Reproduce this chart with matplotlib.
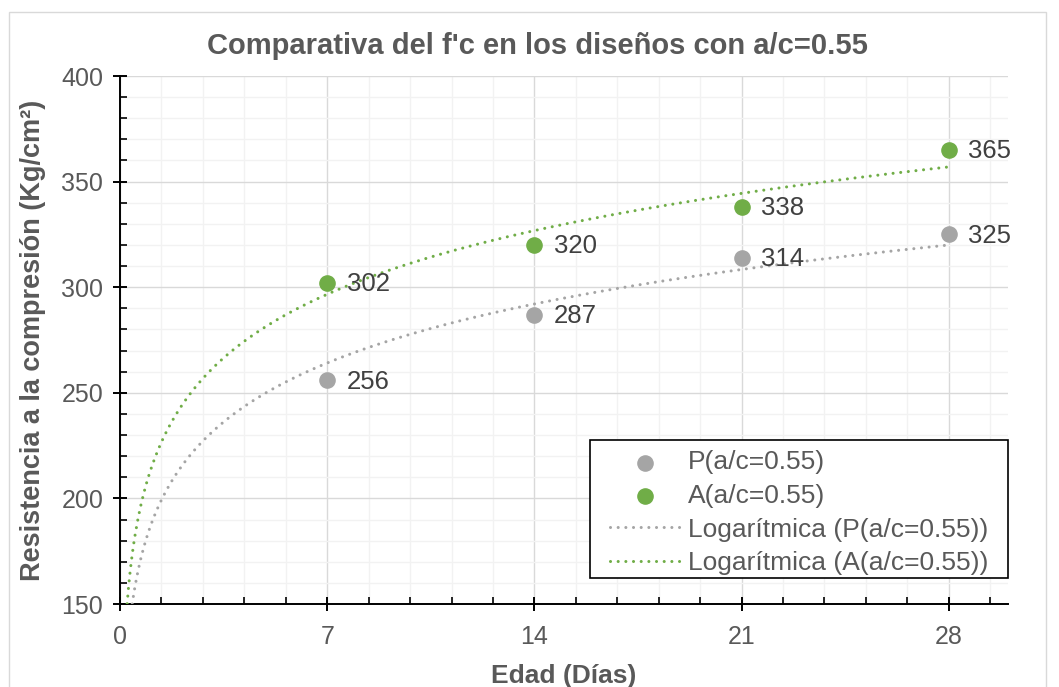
import matplotlib.pyplot as plt
import numpy as np
from matplotlib.patches import Rectangle
from matplotlib.ticker import MultipleLocator

plt.rcParams['font.family'] = ['Liberation Sans', 'DejaVu Sans']

# compressive strength (Kg/cm2) against age (days)
edad = [7, 14, 21, 28]
resist_p = [256, 287, 314, 325]
resist_a = [302, 320, 338, 365]

# logarithmic trendlines y = a*ln(x) + b
trend_p = (40.3, 185.7)
trend_a = (43.5, 212.0)

gris = '#A5A5A5'
verde = '#70AD47'
texto = '#595959'

fig = plt.figure(figsize=(10.59, 6.87), dpi=100)
ax = fig.add_axes([120 / 1059, 1 - 604 / 687, 888 / 1059, 528 / 687])

ax.set_xlim(0, 30)
ax.set_ylim(150, 400)
ax.xaxis.set_major_locator(MultipleLocator(7))
ax.xaxis.set_minor_locator(MultipleLocator(1.4))
ax.yaxis.set_major_locator(MultipleLocator(50))
ax.yaxis.set_minor_locator(MultipleLocator(10))

ax.grid(which='minor', color='#F2F2F2', lw=1.0, zorder=0)
ax.grid(which='major', color='#D9D9D9', lw=1.0, zorder=0)
ax.set_axisbelow(True)

for s in ['top', 'right']:
    ax.spines[s].set_visible(False)
for s in ['left', 'bottom']:
    ax.spines[s].set_linewidth(1.4)
    ax.spines[s].set_color('black')

ax.tick_params(which='major', direction='inout', length=10, width=1.4,
               labelsize=18, labelcolor=texto)
ax.tick_params(axis='x', which='major', pad=10)
ax.tick_params(axis='y', which='major', pad=7)
ax.tick_params(which='minor', direction='in', length=5, width=1.2)

xs = np.linspace(0.05, 28, 600)
ax.plot(xs, trend_p[0] * np.log(xs) + trend_p[1], color=gris, lw=2.2,
        ls=(0, (0.01, 2.5)), dash_capstyle='round', zorder=3,
        label='Logarítmica (P(a/c=0.55))')
ax.plot(xs, trend_a[0] * np.log(xs) + trend_a[1], color=verde, lw=2.2,
        ls=(0, (0.01, 2.5)), dash_capstyle='round', zorder=3,
        label='Logarítmica (A(a/c=0.55))')

ax.scatter(edad, resist_p, s=120, color=gris, zorder=4, label='P(a/c=0.55)')
ax.scatter(edad, resist_a, s=120, color=verde, zorder=4, label='A(a/c=0.55)')

for x, y in zip(edad, resist_p):
    ax.annotate(str(y), (x, y), xytext=(14, -1), textcoords='offset points',
                ha='left', va='center', fontsize=18.5, color='#404040')
for x, y in zip(edad, resist_a):
    ax.annotate(str(y), (x, y), xytext=(14, -1), textcoords='offset points',
                ha='left', va='center', fontsize=18.5, color='#404040')

# legend box drawn separately so the padding can be wider than tall
ax.add_patch(Rectangle((470 / 888, 26 / 528), 418 / 888, 138 / 528,
                       transform=ax.transAxes, facecolor='white',
                       edgecolor='black', lw=1.2, zorder=5, clip_on=False))

h, l = ax.get_legend_handles_labels()
orden = [2, 3, 0, 1]
leg = ax.legend([h[i] for i in orden], [l[i] for i in orden],
                loc='lower right', bbox_to_anchor=(868 / 888, 29 / 528),
                fontsize=19, frameon=False, handlelength=2.65,
                handletextpad=0.3, borderpad=0, labelspacing=0.36,
                borderaxespad=0)
leg.set_zorder(6)
for t in leg.get_texts():
    t.set_color(texto)

ax.set_xlabel('Edad (Días)', fontsize=19, fontweight='bold', color=texto, labelpad=11)
ax.set_ylabel('Resistencia a la compresión (Kg/cm²)', fontsize=19.5,
              fontweight='bold', color=texto, labelpad=11)

fig.text(537 / 1059, 1 - 46 / 687, "Comparativa del f'c en los diseños con a/c=0.55",
         ha='center', va='center', fontsize=21, fontweight='bold', color=texto)

fig.patches.append(Rectangle((9 / 1059, -0.05), 1037 / 1059, 1 - 12 / 687 + 0.05,
                             transform=fig.transFigure, fill=False,
                             edgecolor='#D9D9D9', lw=1.0))

fig.savefig('out.png', dpi=100, facecolor='white')
